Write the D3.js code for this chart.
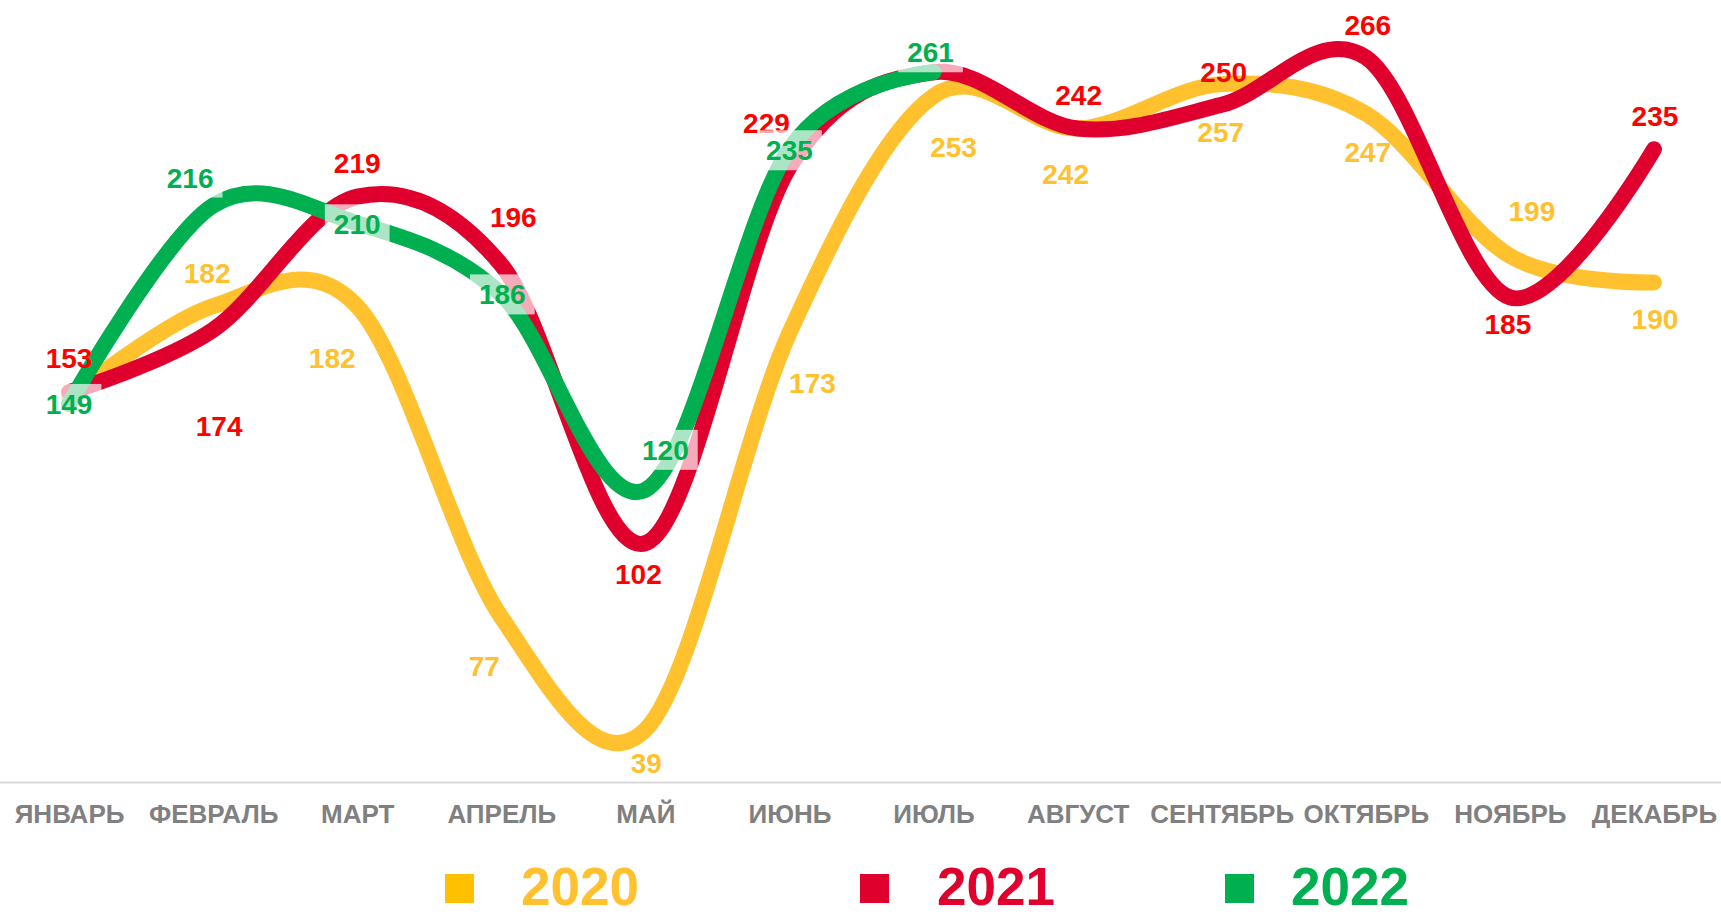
<!DOCTYPE html>
<html>
<head>
<meta charset="utf-8">
<script src="https://d3js.org/d3.v7.min.js"></script>
<style>
  body { margin: 0; background: #fff; }
  svg text { font-family: "Liberation Sans", Arial, sans-serif; font-weight: bold; }
</style>
</head>
<body>
<svg id="chart"></svg>
<script>
// data
const months = ["ЯНВАРЬ", "ФЕВРАЛЬ", "МАРТ", "АПРЕЛЬ", "МАЙ", "ИЮНЬ", "ИЮЛЬ", "АВГУСТ", "СЕНТЯБРЬ", "ОКТЯБРЬ", "НОЯБРЬ", "ДЕКАБРЬ"];
const years = ["2020", "2021", "2022"];
const values2020 = [151, 182, 182, 77, 39, 173, 253, 242, 257, 247, 199, 190];
const values2021 = [153, 174, 219, 196, 102, 229, 261, 242, 250, 266, 185, 235];
const values2022 = [149, 216, 210, 186, 120, 235, 261];
// which points carry a value label (Jan 2020 and Jul 2021 have none)
const labeled2020 = [false, true, true, true, true, true, true, true, true, true, true, true];
const labeled2021 = [true, true, true, true, true, true, false, true, true, true, true, true];
const labeled2022 = [true, true, true, true, true, true, true];

// chart settings
const width = 1721, height = 917;
const lineColors = ["#FFC12E", "#E0002D", "#00B050"];
const labelColors = ["#FFC12E", "#FF0000", "#00B050"];
const legendColors = ["#FFC000", "#E0002D", "#00B050"];
// only the 2022 labels sit on a half transparent white box
const labelBoxed = [false, false, true];

// label offsets from the point (dx, dy of label centre)
const offsets = [
  [[0, 0], [-6, -33], [-25, 52], [-17, 49], [1, 33], [23, 50], [20, 51], [-12, 45], [-1, 48], [2, 38], [22, -45], [1, 36]],
  [[0, -34], [6, 96], [0, -34], [12, -48], [-7, 31], [-23, -44], [0, 0], [1, -34], [2, -33], [2, -33], [-2, 27], [1, -33]],
  [[0, 0], [-23, -28], [0, 1], [1, 0], [20, -40], [0, 1], [-3, -20]]
];

const series = [values2020, values2021, values2022].map((vals, s) => ({
  name: years[s],
  points: vals.map((v, i) => ({
    month: months[i], value: v,
    labeled: [labeled2020, labeled2021, labeled2022][s][i],
    off: offsets[s][i]
  }))
}));

const svg = d3.select("#chart")
  .attr("width", width)
  .attr("height", height)
  .attr("viewBox", [0, 0, width, height]);

const x = d3.scalePoint().domain(months).range([-3, 1726]).padding(0.5);
const y = d3.scaleLinear().domain([20, 280]).range([786, 16]);

// axis
const axisY = 782;
const gx = svg.append("g")
  .attr("transform", `translate(0,${axisY})`)
  .call(d3.axisBottom(x).tickSize(0).tickPadding(23));
gx.select(".domain").attr("stroke", "#D9D9D9").attr("stroke-width", 2);
gx.selectAll(".tick text")
  .attr("fill", "#808080")
  .style("font-size", "26px")
  .style("font-family", "'Liberation Sans', Arial, sans-serif")
  .style("font-weight", "bold");

// lines
const line = d3.line()
  .x(d => x(d.month))
  .y(d => y(d.value))
  .curve(d3.curveCardinal.tension(0));

svg.append("g")
  .selectAll("path")
  .data(series)
  .join("path")
  .attr("d", d => line(d.points))
  .attr("fill", "none")
  .attr("stroke", (d, i) => lineColors[i])
  .attr("stroke-width", 16)
  .attr("stroke-linecap", "round")
  .attr("stroke-linejoin", "round");

// value labels
const labelSize = 28;
const labels = svg.append("g");
series.forEach((s, si) => {
  s.points.filter(p => p.labeled).forEach(p => {
    const cx = x(p.month) + p.off[0];
    const cy = y(p.value) + p.off[1];
    const g = labels.append("g");
    const box = g.append("rect");
    const t = g.append("text")
      .attr("x", cx)
      .attr("y", cy + labelSize * 0.36)
      .attr("text-anchor", "middle")
      .attr("fill", labelColors[si])
      .style("font-size", labelSize + "px")
      .text(p.value);
    if (labelBoxed[si]) {
      const w = t.node().getComputedTextLength() + 18;
      box.attr("x", cx - w / 2)
        .attr("y", cy - 20)
        .attr("width", w)
        .attr("height", 40)
        .attr("fill", "#fff")
        .attr("fill-opacity", 0.67);
    } else {
      box.remove();
    }
  });
});

// legend
const legendX = [445, 860, 1225];
const legendTextX = [521, 937, 1291];
const legend = svg.append("g")
  .selectAll("g")
  .data(years)
  .join("g");
legend.append("rect")
  .attr("x", (d, i) => legendX[i]).attr("y", 874)
  .attr("width", 29).attr("height", 29)
  .attr("fill", (d, i) => legendColors[i]);
legend.append("text")
  .attr("x", (d, i) => legendTextX[i]).attr("y", 905)
  .attr("fill", (d, i) => lineColors[i])
  .style("font-size", "53px")
  .text(d => d);
</script>
</body>
</html>
